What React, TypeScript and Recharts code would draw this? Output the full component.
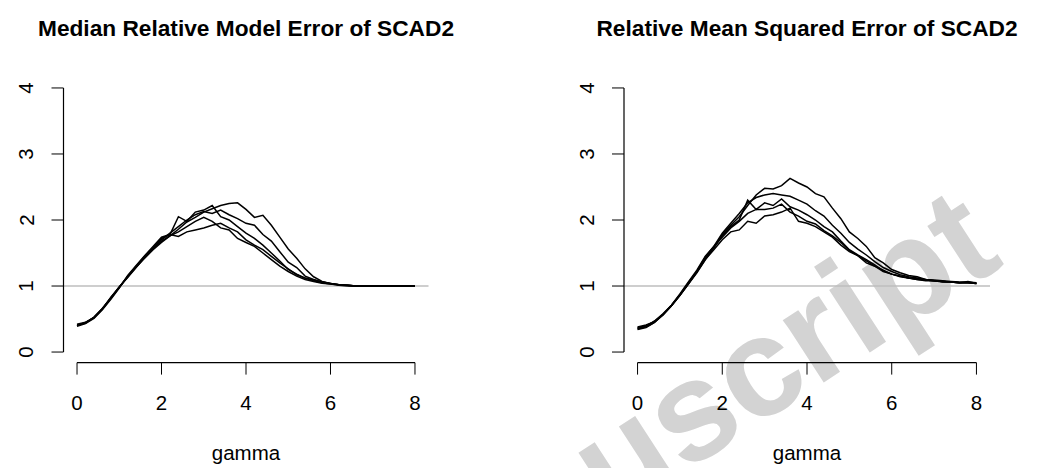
import React from "react";
import { LineChart, Line, XAxis, YAxis, ReferenceLine } from "recharts";

// gamma grid shared by every curve
const gamma = [0, 0.2, 0.4, 0.6, 0.8, 1, 1.2, 1.4, 1.6, 1.8, 2, 2.2, 2.4, 2.6, 2.8, 3, 3.2, 3.4, 3.6, 3.8, 4, 4.2, 4.4, 4.6, 4.8, 5, 5.2, 5.4, 5.6, 5.8, 6, 6.2, 6.4, 6.6, 6.8, 7, 7.2, 7.4, 7.6, 7.8, 8];
const xTicks = [0, 2, 4, 6, 8];
const yTicks = [0, 1, 2, 3, 4];

// left panel: median relative model error
const mrme1 = [0.41, 0.44, 0.52, 0.66, 0.82, 0.98, 1.15, 1.29, 1.42, 1.55, 1.66, 1.76, 1.86, 1.97, 2.04, 2.12, 2.17, 2.22, 2.25, 2.26, 2.16, 2.04, 2.07, 1.92, 1.74, 1.56, 1.42, 1.26, 1.14, 1.07, 1.04, 1.02, 1.01, 1.0, 1.0, 1.0, 1.0, 1.0, 1.0, 1.0, 1.0];
const mrme2 = [0.4, 0.45, 0.52, 0.65, 0.81, 0.98, 1.14, 1.29, 1.44, 1.57, 1.7, 1.8, 1.9, 2.0, 2.08, 2.13, 2.1, 2.15, 2.08, 2.02, 1.95, 1.92, 1.78, 1.68, 1.52, 1.36, 1.28, 1.15, 1.1, 1.06, 1.04, 1.02, 1.01, 1.0, 1.0, 1.0, 1.0, 1.0, 1.0, 1.0, 1.0];
const mrme3 = [0.39, 0.43, 0.51, 0.64, 0.8, 0.97, 1.16, 1.31, 1.46, 1.6, 1.74, 1.78, 2.05, 1.98, 2.12, 2.15, 2.22, 2.05, 2.0, 1.9, 1.8, 1.72, 1.62, 1.5, 1.38, 1.25, 1.18, 1.12, 1.08, 1.05, 1.03, 1.02, 1.01, 1.0, 1.0, 1.0, 1.0, 1.0, 1.0, 1.0, 1.0];
const mrme4 = [0.4, 0.44, 0.53, 0.66, 0.82, 0.99, 1.13, 1.28, 1.43, 1.56, 1.68, 1.76, 1.82, 1.9, 1.98, 2.04, 1.98, 1.88, 1.85, 1.72, 1.66, 1.6, 1.5, 1.4, 1.3, 1.22, 1.15, 1.1, 1.07, 1.04, 1.03, 1.01, 1.0, 1.0, 1.0, 1.0, 1.0, 1.0, 1.0, 1.0, 1.0];
const mrme5 = [0.42, 0.45, 0.52, 0.65, 0.83, 0.98, 1.14, 1.3, 1.45, 1.58, 1.72, 1.78, 1.75, 1.82, 1.85, 1.88, 1.92, 1.95, 1.88, 1.82, 1.7, 1.62, 1.55, 1.45, 1.35, 1.26, 1.17, 1.12, 1.09, 1.06, 1.04, 1.02, 1.01, 1.0, 1.0, 1.0, 1.0, 1.0, 1.0, 1.0, 1.0];

// right panel: relative mean squared error
const rmse1 = [0.37, 0.4, 0.46, 0.57, 0.7, 0.86, 1.03, 1.22, 1.42, 1.58, 1.78, 1.92, 2.05, 2.22, 2.38, 2.48, 2.47, 2.52, 2.63, 2.56, 2.5, 2.4, 2.35, 2.18, 2.02, 1.82, 1.72, 1.6, 1.43, 1.35, 1.25, 1.2, 1.16, 1.14, 1.1, 1.09, 1.08, 1.07, 1.06, 1.06, 1.05];
const rmse2 = [0.35, 0.39, 0.47, 0.58, 0.71, 0.87, 1.05, 1.22, 1.44, 1.6, 1.8, 1.95, 2.1, 2.26, 2.34, 2.38, 2.4, 2.38, 2.36, 2.3, 2.24, 2.14, 2.06, 1.92, 1.8, 1.66, 1.56, 1.47, 1.37, 1.28, 1.22, 1.17, 1.14, 1.12, 1.1, 1.08, 1.07, 1.06, 1.05, 1.05, 1.04];
const rmse3 = [0.38, 0.41, 0.46, 0.56, 0.7, 0.86, 1.04, 1.21, 1.4, 1.58, 1.76, 1.9, 2.0, 2.3, 2.16, 2.26, 2.22, 2.32, 2.2, 2.15, 2.08, 2.0, 1.9, 1.82, 1.68, 1.55, 1.47, 1.4, 1.32, 1.23, 1.18, 1.15, 1.12, 1.11, 1.09, 1.08, 1.07, 1.06, 1.05, 1.07, 1.04];
const rmse4 = [0.34, 0.37, 0.45, 0.57, 0.71, 0.88, 1.06, 1.24, 1.45, 1.6, 1.74, 1.88, 1.98, 2.1, 2.16, 2.16, 2.18, 2.24, 2.12, 2.06, 1.98, 1.94, 1.84, 1.76, 1.66, 1.54, 1.46, 1.38, 1.3, 1.24, 1.18, 1.14, 1.12, 1.1, 1.09, 1.08, 1.06, 1.06, 1.05, 1.05, 1.04];
const rmse5 = [0.36, 0.38, 0.45, 0.56, 0.7, 0.86, 1.03, 1.2, 1.4, 1.55, 1.7, 1.82, 1.85, 1.98, 1.95, 2.06, 2.08, 2.12, 2.18, 1.98, 1.95, 1.9, 1.82, 1.74, 1.62, 1.52, 1.46, 1.35, 1.3, 1.22, 1.18, 1.15, 1.12, 1.1, 1.08, 1.08, 1.07, 1.06, 1.05, 1.05, 1.04];

const FONT = "'Liberation Sans', Arial, Helvetica, sans-serif";
const keys = ["s1", "s2", "s3", "s4", "s5"];

function buildRows(series: number[][]) {
  return gamma.map((g, i) => {
    const row: any = { g };
    series.forEach((s, j) => (row[keys[j]] = s[i]));
    return row;
  });
}

const XTick = (p: any) => (
  <text x={p.x} y={p.y + 35.7} textAnchor="middle" fontSize={20.5} fontFamily={FONT} fill="#000">
    {p.payload.value}
  </text>
);

const YTick = (p: any) => (
  <text x={p.x} y={p.y} transform={`rotate(-90 ${p.x} ${p.y})`} textAnchor="middle" fontSize={20.5} fontFamily={FONT} fill="#000">
    {p.payload.value}
  </text>
);

function Panel({ series, left, axisW, right }: { series: number[][]; left: number; axisW: number; right: number }) {
  const rows = buildRows(series);
  return (
    <div style={{ position: "absolute", left, top: 0 }}>
      <LineChart width={525} height={468} data={rows} margin={{ top: 77.4, right, bottom: 0, left: 0 }}>
        <XAxis
          dataKey="g"
          type="number"
          domain={[-0.32, 8.32]}
          ticks={xTicks}
          interval={0}
          height={105.4}
          axisLine={false}
          stroke="#000"
          tickSize={12}
          tickMargin={0}
          tick={XTick}
        />
        <YAxis
          type="number"
          domain={[-0.16, 4.16]}
          ticks={yTicks}
          interval={0}
          width={axisW}
          axisLine={false}
          stroke="#000"
          tickSize={12}
          tickMargin={18}
          tick={YTick}
        />
        <ReferenceLine y={1} stroke="#bebebe" strokeWidth={1.4} />
        <ReferenceLine segment={[{ x: 0, y: -0.16 }, { x: 8, y: -0.16 }]} stroke="#000" strokeWidth={1.2} ifOverflow="visible" />
        <ReferenceLine segment={[{ x: -0.32, y: 0 }, { x: -0.32, y: 4 }]} stroke="#000" strokeWidth={1.2} ifOverflow="visible" />
        {keys.map((k) => (
          <Line key={k} type="linear" dataKey={k} stroke="#000" strokeWidth={1.5} dot={false} isAnimationActive={false} />
        ))}
      </LineChart>
    </div>
  );
}

export default function App() {
  return (
    <div style={{ position: "absolute", left: 0, top: 0, width: 1050, height: 468, background: "#fff", overflow: "hidden" }}>
      <svg width={1050} height={468} style={{ position: "absolute", left: 0, top: 0 }}>
        <text x={1006} y={264} transform="rotate(-33 1006 264)" textAnchor="end" fontSize={141} fontWeight="bold" fontFamily={FONT} fill="#d3d3d3">
          Manuscript
        </text>
        <text x={246} y={36} textAnchor="middle" fontSize={22.7} fontWeight="bold" fontFamily={FONT} fill="#000">
          Median Relative Model Error of SCAD2
        </text>
        <text x={807} y={36} textAnchor="middle" fontSize={22.7} fontWeight="bold" fontFamily={FONT} fill="#000">
          Relative Mean Squared Error of SCAD2
        </text>
        <text x={246} y={460} textAnchor="middle" fontSize={20.5} fontFamily={FONT} fill="#000">gamma</text>
        <text x={807} y={460} textAnchor="middle" fontSize={20.5} fontFamily={FONT} fill="#000">gamma</text>
      </svg>
      <Panel series={[mrme1, mrme2, mrme3, mrme4, mrme5]} left={0} axisW={63.5} right={96.5} />
      <Panel series={[rmse1, rmse2, rmse3, rmse4, rmse5]} left={525} axisW={99} right={60} />
    </div>
  );
}
